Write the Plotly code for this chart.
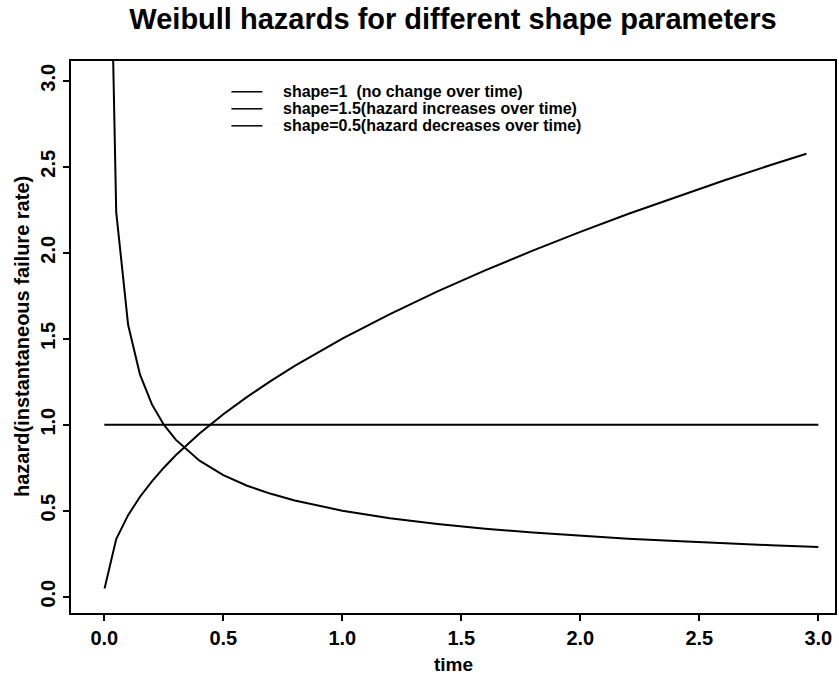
import plotly.graph_objects as go

# ---- data ----
time_inc = [0.001, 0.05, 0.1, 0.15, 0.2, 0.25, 0.3, 0.4, 0.5, 0.6, 0.7, 0.8,
            1.0, 1.2, 1.4, 1.6, 1.8, 2.0, 2.2, 2.4, 2.6, 2.8, 2.95]
hazard_inc = [0.047, 0.335, 0.474, 0.581, 0.671, 0.75, 0.822, 0.949, 1.061, 1.162,
              1.255, 1.342, 1.5, 1.643, 1.775, 1.897, 2.012, 2.121, 2.225, 2.324,
              2.419, 2.510, 2.576]

time_dec = [0.01, 0.05, 0.1, 0.15, 0.2, 0.25, 0.3, 0.4, 0.5, 0.6, 0.7, 0.8,
            1.0, 1.2, 1.4, 1.6, 1.8, 2.0, 2.2, 2.4, 2.6, 2.8, 3.0]
hazard_dec = [5.0, 2.236, 1.581, 1.291, 1.118, 1.0, 0.913, 0.791, 0.707, 0.645,
              0.598, 0.559, 0.5, 0.456, 0.423, 0.395, 0.373, 0.354, 0.337, 0.323,
              0.310, 0.299, 0.289]

time_const = [0.0, 3.0]
hazard_const = [1.0, 1.0]

legend_labels = ["shape=1  (no change over time)",
                 "shape=1.5(hazard increases over time)",
                 "shape=0.5(hazard decreases over time)"]
legend_y = [2.936, 2.837, 2.738]

x_ticks = [0.0, 0.5, 1.0, 1.5, 2.0, 2.5, 3.0]
y_ticks = [0.0, 0.5, 1.0, 1.5, 2.0, 2.5, 3.0]

FONT = "Liberation Sans, Arial, Helvetica, sans-serif"
LINE = dict(color="black", width=2)

fig = go.Figure()
fig.add_trace(go.Scatter(x=time_const, y=hazard_const, mode="lines", line=LINE,
                         name=legend_labels[0]))
fig.add_trace(go.Scatter(x=time_inc, y=hazard_inc, mode="lines", line=LINE,
                         name=legend_labels[1]))
fig.add_trace(go.Scatter(x=time_dec, y=hazard_dec, mode="lines", line=LINE,
                         name=legend_labels[2]))

# legend drawn R-style (no box): short line + text
for lab, ly in zip(legend_labels, legend_y):
    fig.add_shape(type="line", xref="x", yref="y", x0=0.534, x1=0.664, y0=ly, y1=ly,
                  line=dict(color="black", width=1.5))
    fig.add_annotation(x=0.748, y=ly, xref="x", yref="y", text=lab, showarrow=False,
                       xanchor="left", yanchor="middle", borderpad=0,
                       font=dict(family=FONT, size=16, color="black", weight="bold"))

# axis titles
fig.add_annotation(x=0.5, y=0, xref="paper", yref="paper", text="time", showarrow=False,
                   xanchor="center", yanchor="middle", yshift=-51,
                   font=dict(family=FONT, size=19, color="black", weight="bold"))
fig.add_annotation(x=0, y=0.5, xref="paper", yref="paper",
                   text="hazard(instantaneous failure rate)", showarrow=False,
                   textangle=-90, xanchor="center", yanchor="middle", xshift=-49,
                   font=dict(family=FONT, size=20, color="black", weight="bold"))

fig.update_layout(
    width=839, height=676,
    margin=dict(l=71, r=4, t=61, b=63),
    paper_bgcolor="white", plot_bgcolor="white",
    showlegend=False,
    title=dict(text="Weibull hazards for different shape parameters",
               x=0.5, xref="paper", xanchor="center",
               y=1 - 19 / 676, yref="container", yanchor="middle",
               font=dict(family=FONT, size=29, color="black", weight="bold")),
    font=dict(family=FONT, color="black"),
)
fig.update_xaxes(range=[-0.14, 3.07], tickvals=x_ticks, tickformat=".1f",
                 showgrid=False, zeroline=False, showline=True, mirror=True,
                 linecolor="black", linewidth=2, ticks="outside", ticklen=6,
                 tickwidth=1.5, tickcolor="black", automargin=False,
                 tickfont=dict(family=FONT, size=20, color="black", weight="bold"))
fig.update_yaxes(range=[-0.095, 3.115], tickvals=y_ticks, tickformat=".1f",
                 tickangle=-90,
                 showgrid=False, zeroline=False, showline=True, mirror=True,
                 linecolor="black", linewidth=2, ticks="outside", ticklen=6,
                 tickwidth=1.5, tickcolor="black", automargin=False,
                 tickfont=dict(family=FONT, size=20, color="black", weight="bold"))

fig.write_html("out.html")
